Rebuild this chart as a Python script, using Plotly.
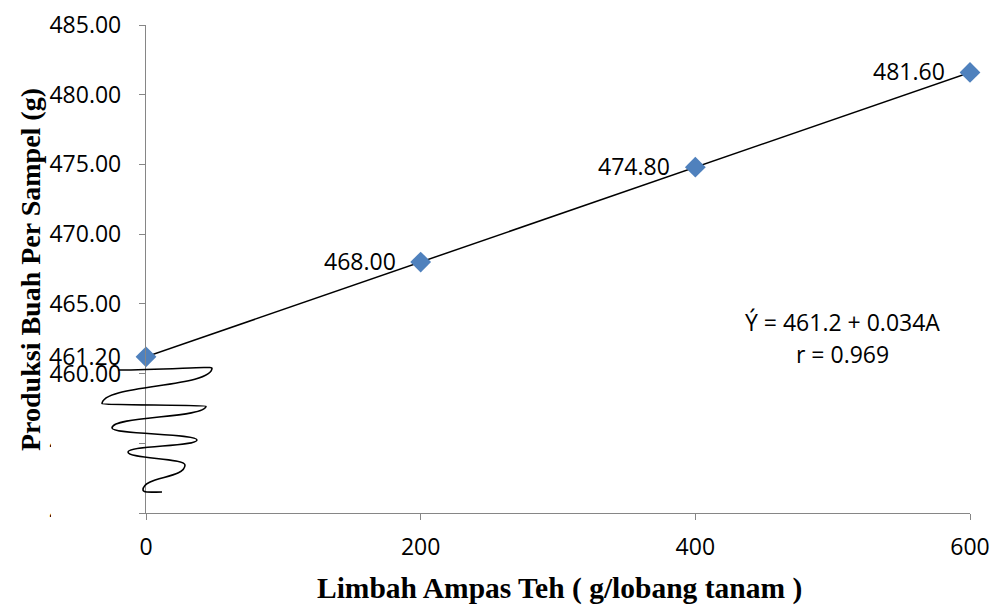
import plotly.graph_objects as go

# ---- data ----
dose = [0, 200, 400, 600]                   # Limbah Ampas Teh (g/lobang tanam)
yield_g = [461.20, 468.00, 474.80, 481.60]  # Produksi Buah Per Sampel (g)
intercept = 461.2
slope = 0.034
r_value = 0.969
y_ticks = [450, 455, 460, 465, 470, 475, 480, 485]
x_ticks = [0, 200, 400, 600]

# ---- layout constants ----
W, H = 994, 606
ML, MR, MT, MB = 146, 24, 25, 93
FX0, FX1, FY0, FY1 = ML, W - MR, MT, H - MB

def px(xp):
    return (xp - FX0) / (FX1 - FX0)

def py(yp):
    return (FY1 - yp) / (FY1 - FY0)

tick_font = dict(family="Open Sans, Lato, sans-serif", size=23, color="#000000")
ytitle_font = dict(family="Liberation Serif, Times New Roman, serif", size=28, color="#000000")
xtitle_font = dict(family="Liberation Serif, Times New Roman, serif", size=29.5, color="#000000")
axis_col = "#868686"

fig = go.Figure()

# regression line
fit_x = [min(dose), max(dose)]
fit_y = [intercept + slope * v for v in fit_x]
fig.add_trace(go.Scatter(x=fit_x, y=fit_y, mode="lines",
                         line=dict(color="#000000", width=1.5),
                         cliponaxis=False, hoverinfo="skip", showlegend=False))

# data points
fig.add_trace(go.Scatter(x=dose, y=yield_g, mode="markers",
                         marker=dict(symbol="diamond", size=16, color="#4F81BD"),
                         cliponaxis=False, showlegend=False))

# axis-break squiggle (decoration) in pixel-like positions -> paper coords
sq = [(118, 370), (212, 368), (102, 404), (206, 406), (112, 428),
      (197, 440), (128, 452), (185, 465), (143, 490), (162, 492)]
path = f"M {px(sq[0][0])},{py(sq[0][1])} "
a, b = sq[0], sq[1]
path += (f"C {px((a[0]+b[0])/2)},{py(a[1])} {px(b[0])},{py(b[1]-2)} "
         f"{px(b[0])},{py(b[1])} ")
for i in range(1, len(sq) - 2):
    a, b = sq[i], sq[i + 1]
    dy = b[1] - a[1]
    path += (f"C {px(a[0])},{py(a[1] + 0.55*dy)} {px(b[0])},{py(b[1] - 0.55*dy)} "
             f"{px(b[0])},{py(b[1])} ")
a, b = sq[-2], sq[-1]
path += (f"C {px(a[0])},{py(a[1] + 3)} {px((a[0]+b[0])/2)},{py(b[1])} "
         f"{px(b[0])},{py(b[1])}")

shapes = [
    # white patch hiding most of the lower tick labels
    dict(type="rect", xref="paper", yref="paper",
         x0=px(51), x1=px(139), y0=py(528), y1=py(428),
         fillcolor="white", line=dict(width=0), layer="above"),
    dict(type="path", xref="paper", yref="paper", path=path,
         line=dict(color="#000000", width=1.6), layer="above"),
]

annotations = []
# data labels to the left of each point
for xv, yv in zip(dose, yield_g):
    annotations.append(dict(text=f"{yv:.2f}", x=xv, y=yv, xref="x", yref="y",
                            showarrow=False, font=tick_font, xanchor="right",
                            yanchor="middle", xshift=-23, yshift=1))

annotations += [
    dict(text=f"Ý = {intercept} + {slope}A", x=507, y=463.7, xref="x", yref="y",
         showarrow=False, font=tick_font, xanchor="center", yanchor="middle"),
    dict(text=f"r = {r_value}", x=507, y=461.4, xref="x", yref="y",
         showarrow=False, font=tick_font, xanchor="center", yanchor="middle"),
    dict(text="<b>Limbah Ampas Teh ( g/lobang tanam )</b>", xref="paper", yref="paper",
         x=px(559), y=py(588), showarrow=False, font=xtitle_font,
         xanchor="center", yanchor="middle"),
    dict(text="<b>Produksi Buah Per Sampel (g)</b>", xref="paper", yref="paper",
         x=px(30), y=py(270), showarrow=False, font=ytitle_font, textangle=-90,
         xanchor="center", yanchor="middle"),
]

fig.update_layout(
    width=W, height=H,
    margin=dict(l=ML, r=MR, t=MT, b=MB, pad=0),
    paper_bgcolor="white", plot_bgcolor="white",
    shapes=shapes, annotations=annotations,
    xaxis=dict(range=[0, 600], tickvals=x_ticks, ticktext=[str(v) for v in x_ticks],
               showgrid=False, zeroline=False, showline=True, linecolor=axis_col,
               linewidth=1.3, ticks="outside", ticklen=6, tickcolor=axis_col,
               tickfont=tick_font, ticklabelstandoff=7, automargin=False),
    yaxis=dict(range=[450, 485], tickvals=y_ticks,
               ticktext=[f"{v:.2f}" for v in y_ticks],
               showgrid=False, zeroline=False, showline=True, linecolor=axis_col,
               linewidth=1.3, ticks="outside", ticklen=6, tickcolor=axis_col,
               tickfont=tick_font, ticklabelstandoff=13, automargin=False),
)

fig.write_html("out.html",
               config={"displayModeBar": False},
               post_script="document.body.style.margin='0px';"
                           "document.body.style.overflow='hidden';")
